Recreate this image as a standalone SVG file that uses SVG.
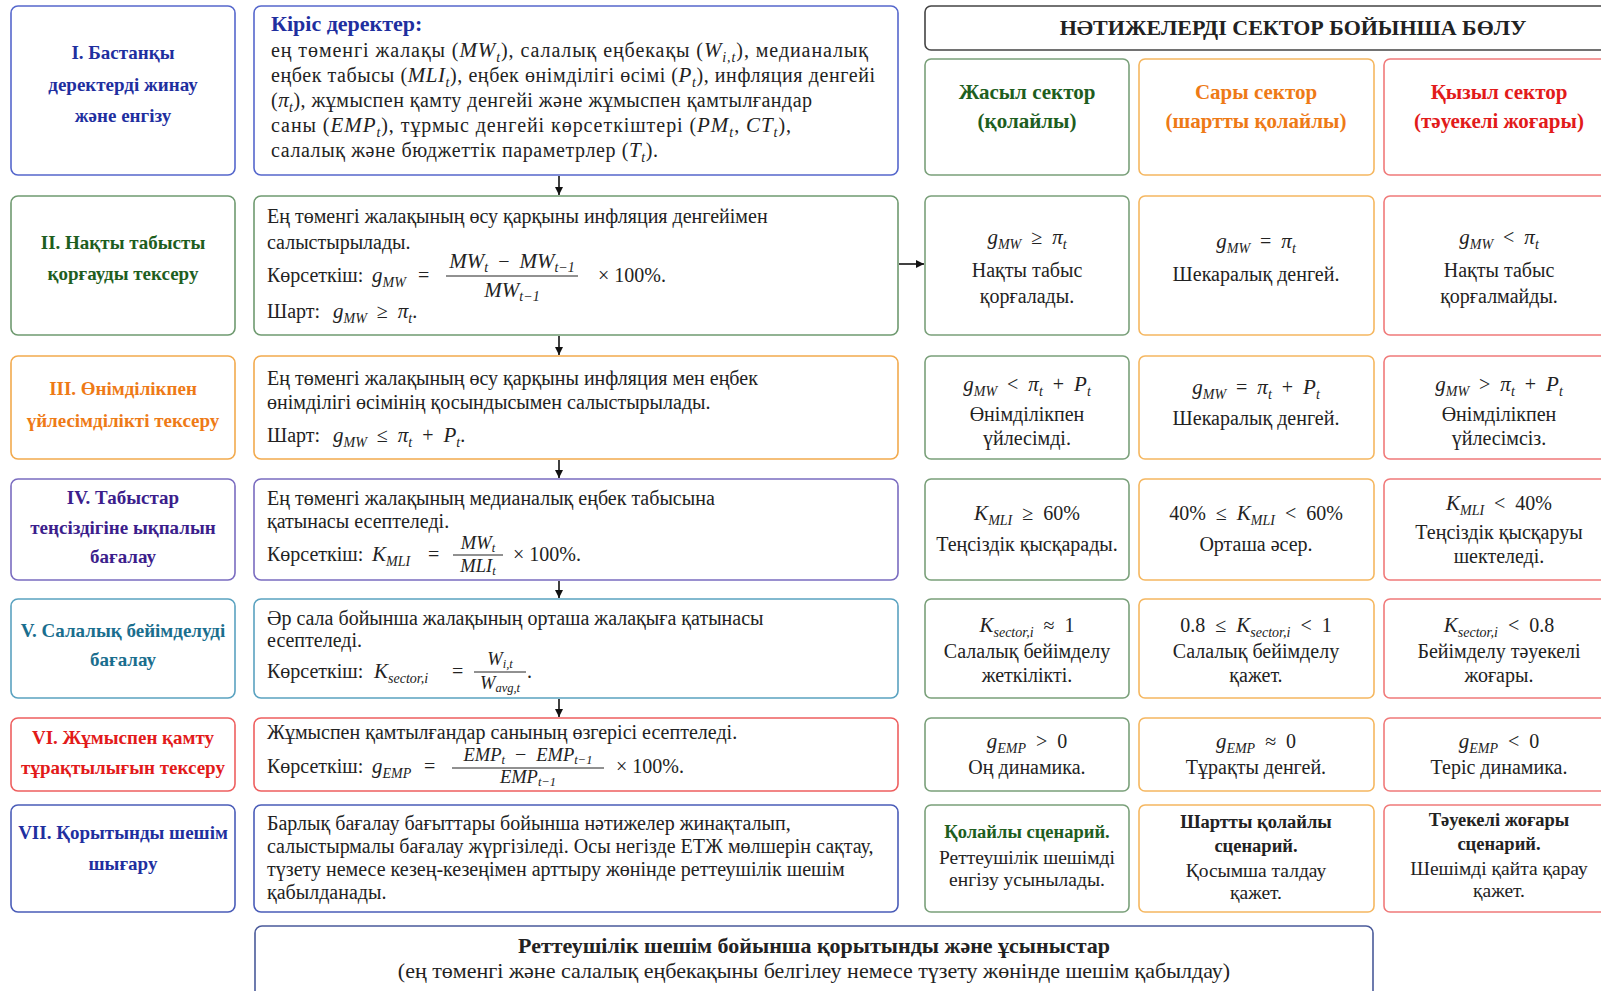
<svg xmlns="http://www.w3.org/2000/svg" width="1601" height="991" viewBox="0 0 1601 991">
<style>
text{font-family:"Liberation Serif","Times New Roman",serif;fill:#222}
.t{font-size:19px;font-weight:bold;text-anchor:middle}
.b{font-size:20px}
.c{font-size:20px;text-anchor:middle}
.c7{font-size:19.5px;text-anchor:middle}
.k{font-size:18.5px;font-weight:bold;text-anchor:middle}
.i{font-style:italic;font-size:21px}
.s{font-size:14px;font-style:italic}
.fi{font-style:italic;font-size:18.5px}
.fs{font-size:12.5px;font-style:italic}
.box{fill:#fff;stroke-width:1.6}
.bl{stroke:#5567cc}.gr{stroke:#6f9a70}.or{stroke:#f2aa4e}.pu{stroke:#7a6cc0}.te{stroke:#5aa2c0}.rd{stroke:#ee5f5f}.b7{stroke:#4a5cb8}
.cg{stroke:#7aa07a}.co{stroke:#f5b760}.cr{stroke:#f07a7a}
.conn{stroke:#111;stroke-width:1.6;fill:none}
.fr{stroke:#222;stroke-width:1}
</style>
<defs>
<marker id="ah" viewBox="0 0 10 10" refX="10" refY="5" markerWidth="8" markerHeight="8" orient="auto" markerUnits="userSpaceOnUse">
<path d="M0,0 L10,5 L0,10 z" fill="#111"/>
</marker>
</defs>
<rect width="1601" height="991" fill="#fff"/>

<g id="connectors">
<line class="conn" x1="559" y1="176" x2="559" y2="195" marker-end="url(#ah)"/>
<line class="conn" x1="559" y1="336" x2="559" y2="355" marker-end="url(#ah)"/>
<line class="conn" x1="559" y1="460" x2="559" y2="478" marker-end="url(#ah)"/>
<line class="conn" x1="559" y1="581" x2="559" y2="598" marker-end="url(#ah)"/>
<line class="conn" x1="559" y1="699" x2="559" y2="717" marker-end="url(#ah)"/>
<line class="conn" x1="899" y1="264" x2="924" y2="264" marker-end="url(#ah)"/>
</g>

<!-- Row I -->
<g id="step1">
<rect class="box bl" x="11" y="6" width="224" height="169" rx="7"/>
<text class="t" x="123" y="59" style="fill:#1f2f9f">I. Бастанқы</text>
<text class="t" x="123" y="91" style="fill:#1f2f9f">деректерді жинау</text>
<text class="t" x="123" y="122" style="fill:#1f2f9f">және енгізу</text>
</g>
<g id="inputs">
<rect class="box bl" x="254" y="6" width="644" height="169" rx="7"/>
<text x="271" y="31" style="font-size:22px;font-weight:bold;fill:#1f2f9f">Кіріс деректер:</text>
<text class="b" x="271" y="57" textLength="597">ең төменгі жалақы (<tspan class="i">MW</tspan><tspan class="s" dy="5">t</tspan><tspan dy="-5">), салалық еңбекақы (</tspan><tspan class="i">W</tspan><tspan class="s" dy="5">i,t</tspan><tspan dy="-5">), медианалық</tspan></text>
<text class="b" x="271" y="82" textLength="604">еңбек табысы (<tspan class="i">MLI</tspan><tspan class="s" dy="5">t</tspan><tspan dy="-5">), еңбек өнімділігі өсімі (</tspan><tspan class="i">P</tspan><tspan class="s" dy="5">t</tspan><tspan dy="-5">), инфляция денгейі</tspan></text>
<text class="b" x="271" y="107" textLength="541">(<tspan class="i">π</tspan><tspan class="s" dy="5">t</tspan><tspan dy="-5">), жұмыспен қамту денгейі және жұмыспен қамтылғандар</tspan></text>
<text class="b" x="271" y="132" textLength="520">саны (<tspan class="i">EMP</tspan><tspan class="s" dy="5">t</tspan><tspan dy="-5">), тұрмыс денгейі көрсеткіштері (</tspan><tspan class="i">PM</tspan><tspan class="s" dy="5">t</tspan><tspan dy="-5">, </tspan><tspan class="i">CT</tspan><tspan class="s" dy="5">t</tspan><tspan dy="-5">),</tspan></text>
<text class="b" x="271" y="157" textLength="387">салалық және бюджеттік параметрлер (<tspan class="i">T</tspan><tspan class="s" dy="5">t</tspan><tspan dy="-5">).</tspan></text>
</g>

<!-- Header -->
<g id="header">
<rect class="box" x="925" y="6" width="736" height="44" rx="6" style="stroke:#444"/>
<text x="1293" y="35" style="font-size:22px;font-weight:bold;text-anchor:middle">НӘТИЖЕЛЕРДІ СЕКТОР БОЙЫНША БӨЛУ</text>
</g>
<g id="sector-green">
<rect class="box cg" x="925" y="59" width="204" height="116" rx="6"/>
<text class="t" x="1027" y="99" style="fill:#1e5e1e;font-size:21px">Жасыл сектор</text>
<text class="t" x="1027" y="128" style="fill:#1e5e1e;font-size:21px">(қолайлы)</text>
</g>
<g id="sector-orange">
<rect class="box co" x="1139" y="59" width="235" height="116" rx="6"/>
<text class="t" x="1256" y="99" style="fill:#ee7a16;font-size:21px">Сары сектор</text>
<text class="t" x="1256" y="128" style="fill:#ee7a16;font-size:21px">(шартты қолайлы)</text>
</g>
<g id="sector-red">
<rect class="box cr" x="1384" y="59" width="232" height="116" rx="6"/>
<text class="t" x="1499" y="99" style="fill:#e21a1a;font-size:21px">Қызыл сектор</text>
<text class="t" x="1499" y="128" style="fill:#e21a1a;font-size:21px">(тәуекелі жоғары)</text>
</g>

<!-- Row II -->
<g id="step2">
<rect class="box gr" x="11" y="196" width="224" height="139" rx="7"/>
<text class="t" x="123" y="249" style="fill:#1e5e1e">II. Нақты табысты</text>
<text class="t" x="123" y="280" style="fill:#1e5e1e">қорғауды тексеру</text>
</g>
<g id="step2-body">
<rect class="box gr" x="254" y="196" width="644" height="139" rx="7"/>
<text class="b" x="267" y="223">Ең төменгі жалақының өсу қарқыны инфляция денгейімен</text>
<text class="b" x="267" y="249">салыстырылады.</text>
<text class="b" x="267" y="282">Көрсеткіш:</text>
<text class="b" x="372" y="282"><tspan class="i">g</tspan><tspan class="s" dy="5">MW</tspan><tspan dy="-5" x="418">=</tspan></text>
<text class="c" x="512" y="268"><tspan class="i">MW</tspan><tspan class="s" dy="4">t</tspan><tspan dy="-4">&#8194;−&#8194;</tspan><tspan class="i">MW</tspan><tspan class="s" dy="4">t−1</tspan></text>
<line class="fr" x1="446" y1="276" x2="578" y2="276"/>
<text class="c" x="512" y="297"><tspan class="i">MW</tspan><tspan class="s" dy="4">t−1</tspan></text>
<text class="b" x="598" y="282">× 100%.</text>
<text class="b" x="267" y="318">Шарт: <tspan class="i" x="333">g</tspan><tspan class="s" dy="5">MW</tspan><tspan dy="-5">&#8194;≥&#8194;</tspan><tspan class="i">π</tspan><tspan class="s" dy="5">t</tspan><tspan dy="-5">.</tspan></text>
</g>
<g id="r2-green">
<rect class="box cg" x="925" y="196" width="204" height="139" rx="6"/>
<text class="c" x="1027" y="244"><tspan class="i">g</tspan><tspan class="s" dy="5">MW</tspan><tspan dy="-5">&#8194;≥&#8194;</tspan><tspan class="i">π</tspan><tspan class="s" dy="5">t</tspan></text>
<text class="c" x="1027" y="277">Нақты табыс</text>
<text class="c" x="1027" y="303">қорғалады.</text>
</g>
<g id="r2-orange">
<rect class="box co" x="1139" y="196" width="235" height="139" rx="6"/>
<text class="c" x="1256" y="248"><tspan class="i">g</tspan><tspan class="s" dy="5">MW</tspan><tspan dy="-5">&#8194;=&#8194;</tspan><tspan class="i">π</tspan><tspan class="s" dy="5">t</tspan></text>
<text class="c" x="1256" y="281">Шекаралық денгей.</text>
</g>
<g id="r2-red">
<rect class="box cr" x="1384" y="196" width="232" height="139" rx="6"/>
<text class="c" x="1499" y="244"><tspan class="i">g</tspan><tspan class="s" dy="5">MW</tspan><tspan dy="-5">&#8194;&lt;&#8194;</tspan><tspan class="i">π</tspan><tspan class="s" dy="5">t</tspan></text>
<text class="c" x="1499" y="277">Нақты табыс</text>
<text class="c" x="1499" y="303">қорғалмайды.</text>
</g>

<!-- Row III -->
<g id="step3">
<rect class="box or" x="11" y="356" width="224" height="103" rx="7"/>
<text class="t" x="123" y="395" style="fill:#ee7a16">III. Өнімділікпен</text>
<text class="t" x="123" y="427" style="fill:#ee7a16">үйлесімділікті тексеру</text>
</g>
<g id="step3-body">
<rect class="box or" x="254" y="356" width="644" height="103" rx="7"/>
<text class="b" x="267" y="385">Ең төменгі жалақының өсу қарқыны инфляция мен еңбек</text>
<text class="b" x="267" y="409">өнімділігі өсімінің қосындысымен салыстырылады.</text>
<text class="b" x="267" y="442">Шарт: <tspan class="i" x="333">g</tspan><tspan class="s" dy="5">MW</tspan><tspan dy="-5">&#8194;≤&#8194;</tspan><tspan class="i">π</tspan><tspan class="s" dy="5">t</tspan><tspan dy="-5">&#8194;+&#8194;</tspan><tspan class="i">P</tspan><tspan class="s" dy="5">t</tspan><tspan dy="-5">.</tspan></text>
</g>
<g id="r3-green">
<rect class="box cg" x="925" y="356" width="204" height="103" rx="6"/>
<text class="c" x="1027" y="391"><tspan class="i">g</tspan><tspan class="s" dy="5">MW</tspan><tspan dy="-5">&#8194;&lt;&#8194;</tspan><tspan class="i">π</tspan><tspan class="s" dy="5">t</tspan><tspan dy="-5">&#8194;+&#8194;</tspan><tspan class="i">P</tspan><tspan class="s" dy="5">t</tspan></text>
<text class="c" x="1027" y="421">Өнімділікпен</text>
<text class="c" x="1027" y="445">үйлесімді.</text>
</g>
<g id="r3-orange">
<rect class="box co" x="1139" y="356" width="235" height="103" rx="6"/>
<text class="c" x="1256" y="394"><tspan class="i">g</tspan><tspan class="s" dy="5">MW</tspan><tspan dy="-5">&#8194;=&#8194;</tspan><tspan class="i">π</tspan><tspan class="s" dy="5">t</tspan><tspan dy="-5">&#8194;+&#8194;</tspan><tspan class="i">P</tspan><tspan class="s" dy="5">t</tspan></text>
<text class="c" x="1256" y="425">Шекаралық денгей.</text>
</g>
<g id="r3-red">
<rect class="box cr" x="1384" y="356" width="232" height="103" rx="6"/>
<text class="c" x="1499" y="391"><tspan class="i">g</tspan><tspan class="s" dy="5">MW</tspan><tspan dy="-5">&#8194;&gt;&#8194;</tspan><tspan class="i">π</tspan><tspan class="s" dy="5">t</tspan><tspan dy="-5">&#8194;+&#8194;</tspan><tspan class="i">P</tspan><tspan class="s" dy="5">t</tspan></text>
<text class="c" x="1499" y="421">Өнімділікпен</text>
<text class="c" x="1499" y="445">үйлесімсіз.</text>
</g>

<!-- Row IV -->
<g id="step4">
<rect class="box pu" x="11" y="479" width="224" height="101" rx="7"/>
<text class="t" x="123" y="504" style="fill:#3c1e8c">IV. Табыстар</text>
<text class="t" x="123" y="534" style="fill:#3c1e8c">теңсіздігіне ықпалын</text>
<text class="t" x="123" y="563" style="fill:#3c1e8c">бағалау</text>
</g>
<g id="step4-body">
<rect class="box pu" x="254" y="479" width="644" height="101" rx="7"/>
<text class="b" x="267" y="505">Ең төменгі жалақының медианалық еңбек табысына</text>
<text class="b" x="267" y="528">қатынасы есептеледі.</text>
<text class="b" x="267" y="561">Көрсеткіш:</text>
<text class="b" x="372" y="561"><tspan class="i">K</tspan><tspan class="s" dy="5">MLI</tspan><tspan dy="-5" x="428">=</tspan></text>
<text class="c" x="478" y="549"><tspan class="fi">MW</tspan><tspan class="fs" dy="3">t</tspan></text>
<line class="fr" x1="453" y1="555" x2="503" y2="555"/>
<text class="c" x="478" y="572"><tspan class="fi">MLI</tspan><tspan class="fs" dy="3">t</tspan></text>
<text class="b" x="513" y="561">× 100%.</text>
</g>
<g id="r4-green">
<rect class="box cg" x="925" y="479" width="204" height="101" rx="6"/>
<text class="c" x="1027" y="520"><tspan class="i">K</tspan><tspan class="s" dy="5">MLI</tspan><tspan dy="-5">&#8194;≥&#8194;60%</tspan></text>
<text class="c" x="1027" y="551">Теңсіздік қысқарады.</text>
</g>
<g id="r4-orange">
<rect class="box co" x="1139" y="479" width="235" height="101" rx="6"/>
<text class="c" x="1256" y="520">40%&#8194;≤&#8194;<tspan class="i">K</tspan><tspan class="s" dy="5">MLI</tspan><tspan dy="-5">&#8194;&lt;&#8194;60%</tspan></text>
<text class="c" x="1256" y="551">Орташа әсер.</text>
</g>
<g id="r4-red">
<rect class="box cr" x="1384" y="479" width="232" height="101" rx="6"/>
<text class="c" x="1499" y="510"><tspan class="i">K</tspan><tspan class="s" dy="5">MLI</tspan><tspan dy="-5">&#8194;&lt;&#8194;40%</tspan></text>
<text class="c" x="1499" y="539">Теңсіздік қысқаруы</text>
<text class="c" x="1499" y="563">шектеледі.</text>
</g>

<!-- Row V -->
<g id="step5">
<rect class="box te" x="11" y="599" width="224" height="99" rx="7"/>
<text class="t" x="123" y="637" style="fill:#1a6e8e">V. Салалық бейімделуді</text>
<text class="t" x="123" y="666" style="fill:#1a6e8e">бағалау</text>
</g>
<g id="step5-body">
<rect class="box te" x="254" y="599" width="644" height="99" rx="7"/>
<text class="b" x="267" y="625">Әр сала бойынша жалақының орташа жалақыға қатынасы</text>
<text class="b" x="267" y="647">есептеледі.</text>
<text class="b" x="267" y="678">Көрсеткіш:</text>
<text class="b" x="374" y="678"><tspan class="i">K</tspan><tspan class="s" dy="5">sector,i</tspan><tspan dy="-5" x="452">=</tspan></text>
<text class="c" x="500" y="665"><tspan class="fi">W</tspan><tspan class="fs" dy="3">i,t</tspan></text>
<line class="fr" x1="474" y1="672" x2="526" y2="672"/>
<text class="c" x="500" y="689"><tspan class="fi">W</tspan><tspan class="fs" dy="3">avg,t</tspan></text>
<text class="b" x="527" y="678">.</text>
</g>
<g id="r5-green">
<rect class="box cg" x="925" y="599" width="204" height="99" rx="6"/>
<text class="c" x="1027" y="632"><tspan class="i">K</tspan><tspan class="s" dy="5">sector,i</tspan><tspan dy="-5">&#8194;≈&#8194;1</tspan></text>
<text class="c" x="1027" y="658">Салалық бейімделу</text>
<text class="c" x="1027" y="682">жеткілікті.</text>
</g>
<g id="r5-orange">
<rect class="box co" x="1139" y="599" width="235" height="99" rx="6"/>
<text class="c" x="1256" y="632">0.8&#8194;≤&#8194;<tspan class="i">K</tspan><tspan class="s" dy="5">sector,i</tspan><tspan dy="-5">&#8194;&lt;&#8194;1</tspan></text>
<text class="c" x="1256" y="658">Салалық бейімделу</text>
<text class="c" x="1256" y="682">қажет.</text>
</g>
<g id="r5-red">
<rect class="box cr" x="1384" y="599" width="232" height="99" rx="6"/>
<text class="c" x="1499" y="632"><tspan class="i">K</tspan><tspan class="s" dy="5">sector,i</tspan><tspan dy="-5">&#8194;&lt;&#8194;0.8</tspan></text>
<text class="c" x="1499" y="658">Бейімделу тәуекелі</text>
<text class="c" x="1499" y="682">жоғары.</text>
</g>

<!-- Row VI -->
<g id="step6">
<rect class="box rd" x="11" y="718" width="224" height="73" rx="7"/>
<text class="t" x="123" y="744" style="fill:#e21a1a">VI. Жұмыспен қамту</text>
<text class="t" x="123" y="774" style="fill:#e21a1a">тұрақтылығын тексеру</text>
</g>
<g id="step6-body">
<rect class="box rd" x="254" y="718" width="644" height="73" rx="7"/>
<text class="b" x="267" y="739">Жұмыспен қамтылғандар санының өзгерісі есептеледі.</text>
<text class="b" x="267" y="773">Көрсеткіш:</text>
<text class="b" x="372" y="773"><tspan class="i">g</tspan><tspan class="s" dy="5">EMP</tspan><tspan dy="-5" x="424">=</tspan></text>
<text class="c" x="528" y="761"><tspan class="fi">EMP</tspan><tspan class="fs" dy="3">t</tspan><tspan dy="-3">&#8194;−&#8194;</tspan><tspan class="fi">EMP</tspan><tspan class="fs" dy="3">t−1</tspan></text>
<line class="fr" x1="452" y1="768" x2="604" y2="768"/>
<text class="c" x="528" y="783"><tspan class="fi">EMP</tspan><tspan class="fs" dy="3">t−1</tspan></text>
<text class="b" x="616" y="773">× 100%.</text>
</g>
<g id="r6-green">
<rect class="box cg" x="925" y="718" width="204" height="73" rx="6"/>
<text class="c" x="1027" y="748"><tspan class="i">g</tspan><tspan class="s" dy="5">EMP</tspan><tspan dy="-5">&#8194;&gt;&#8194;0</tspan></text>
<text class="c" x="1027" y="774">Оң динамика.</text>
</g>
<g id="r6-orange">
<rect class="box co" x="1139" y="718" width="235" height="73" rx="6"/>
<text class="c" x="1256" y="748"><tspan class="i">g</tspan><tspan class="s" dy="5">EMP</tspan><tspan dy="-5">&#8194;≈&#8194;0</tspan></text>
<text class="c" x="1256" y="774">Тұрақты денгей.</text>
</g>
<g id="r6-red">
<rect class="box cr" x="1384" y="718" width="232" height="73" rx="6"/>
<text class="c" x="1499" y="748"><tspan class="i">g</tspan><tspan class="s" dy="5">EMP</tspan><tspan dy="-5">&#8194;&lt;&#8194;0</tspan></text>
<text class="c" x="1499" y="774">Теріс динамика.</text>
</g>

<!-- Row VII -->
<g id="step7">
<rect class="box b7" x="11" y="805" width="224" height="107" rx="7"/>
<text class="t" x="123" y="839" style="fill:#1f2f9f">VII. Қорытынды шешім</text>
<text class="t" x="123" y="870" style="fill:#1f2f9f">шығару</text>
</g>
<g id="step7-body">
<rect class="box b7" x="254" y="805" width="644" height="107" rx="7"/>
<text class="b" x="267" y="830">Барлық бағалау бағыттары бойынша нәтижелер жинақталып,</text>
<text class="b" x="267" y="853">салыстырмалы бағалау жүргізіледі. Осы негізде ЕТЖ мөлшерін сақтау,</text>
<text class="b" x="267" y="876">түзету немесе кезең-кезеңімен арттыру жөнінде реттеушілік шешім</text>
<text class="b" x="267" y="899">қабылданады.</text>
</g>
<g id="r7-green">
<rect class="box cg" x="925" y="805" width="204" height="107" rx="6"/>
<text class="k" x="1027" y="838" style="fill:#1e5e1e">Қолайлы сценарий.</text>
<text class="c7" x="1027" y="864">Реттеушілік шешімді</text>
<text class="c7" x="1027" y="886">енгізу усынылады.</text>
</g>
<g id="r7-orange">
<rect class="box co" x="1139" y="805" width="235" height="107" rx="6"/>
<text class="k" x="1256" y="828">Шартты қолайлы</text>
<text class="k" x="1256" y="852">сценарий.</text>
<text class="c7" x="1256" y="877">Қосымша талдау</text>
<text class="c7" x="1256" y="899">қажет.</text>
</g>
<g id="r7-red">
<rect class="box cr" x="1384" y="805" width="232" height="107" rx="6"/>
<text class="k" x="1499" y="826">Тәуекелі жоғары</text>
<text class="k" x="1499" y="850">сценарий.</text>
<text class="c7" x="1499" y="875">Шешімді қайта қарау</text>
<text class="c7" x="1499" y="897">қажет.</text>
</g>

<!-- Bottom -->
<g id="conclusion">
<rect class="box" x="255" y="926" width="1118" height="80" rx="7" style="stroke:#4a5a9a"/>
<text x="814" y="953" style="font-size:22px;font-weight:bold;text-anchor:middle">Реттеушілік шешім бойынша қорытынды және ұсыныстар</text>
<text x="814" y="978" style="font-size:22px;text-anchor:middle">(ең төменгі және салалық еңбекақыны белгілеу немесе түзету жөнінде шешім қабылдау)</text>
</g>
</svg>
